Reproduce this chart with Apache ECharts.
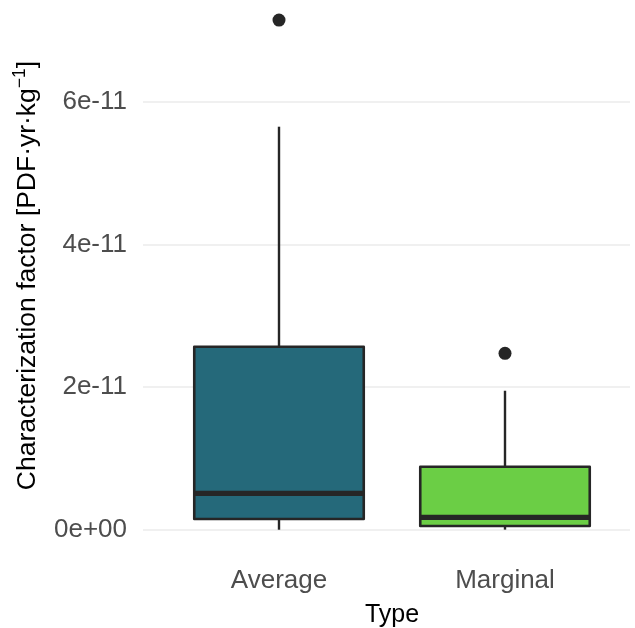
<!DOCTYPE html>
<html>
<head>
<meta charset="utf-8">
<script src="https://cdn.jsdelivr.net/npm/echarts@6/dist/echarts.min.js"></script>
<style>html,body{margin:0;padding:0;background:#fff;}#c{width:635px;height:628px;}</style>
</head>
<body>
<div id="c"></div>
<script>
const categories = ['Average', 'Marginal'];
const whiskerLow = [0.004e-11, 0.005e-11];
const q1 = [0.154e-11, 0.056e-11];
const medians = [0.514e-11, 0.176e-11];
const q3 = [2.568e-11, 0.887e-11];
const whiskerHigh = [5.650e-11, 1.951e-11];
const outliers = [[0, 7.144e-11], [1, 2.475e-11]];
const yTicks = [0, 2e-11, 4e-11, 6e-11];

const fills = ['#25697A', '#6BCE45'];
const edge = '#262626';

const boxData = categories.map((c, i) => [i, whiskerLow[i], q1[i], medians[i], q3[i], whiskerHigh[i]]);

function fmt(v) {
  if (v === 0) return '0e+00';
  const s = v.toExponential(0);
  const m = s.match(/^(-?\d)e([+-])(\d+)$/);
  if (!m) return s;
  return m[1] + 'e' + m[2] + (m[3].length < 2 ? '0' + m[3] : m[3]);
}

const yMin = 0, yMax = 7.355e-11;
const chart = echarts.init(document.getElementById('c'), null, {renderer: 'canvas'});
chart.setOption({
  animation: false,
  backgroundColor: '#ffffff',
  grid: [
    {left: 166, right: 17, top: 5, bottom: 98, outerBoundsMode: 'none', containLabel: false},
    {left: 143, right: 5, top: 5, bottom: 98, outerBoundsMode: 'none', containLabel: false}
  ],
  xAxis: [
    {
      type: 'category', gridIndex: 0, data: categories,
      axisLine: {show: false}, axisTick: {show: false},
      axisLabel: {color: '#4D4D4D', fontSize: 26, fontFamily: 'Liberation Sans', margin: 38},
      name: 'Type', nameLocation: 'middle', nameGap: 73,
      nameTextStyle: {color: '#000', fontSize: 25, fontFamily: 'Liberation Sans'}
    },
    {type: 'value', gridIndex: 1, show: false, min: 0, max: 1}
  ],
  yAxis: [
    {type: 'value', gridIndex: 0, min: yMin, max: yMax, show: false},
    {
      type: 'value', gridIndex: 1, min: yMin, max: yMax, interval: 2e-11,
      axisLine: {show: false},
      axisTick: {show: false, customValues: yTicks},
      splitLine: {show: true, lineStyle: {color: '#EBEBEB', width: 1.6}},
      axisLabel: {
        color: '#4D4D4D', fontSize: 26, fontFamily: 'Liberation Sans', margin: 16,
        formatter: function (v) { return fmt(v); },
        customValues: yTicks
      },
      name: '{a|Characterization factor [PDF·yr·kg}{b|−1}{a|]}',
      nameLocation: 'middle', nameGap: 102, nameRotate: 90,
      nameTextStyle: {
        padding: [0, 16, 0, 0],
        rich: {
          a: {color: '#000', fontSize: 26.5, fontFamily: 'Liberation Sans', lineHeight: 30, verticalAlign: 'bottom'},
          b: {color: '#000', fontSize: 17.5, fontFamily: 'Liberation Sans', lineHeight: 30, verticalAlign: 'top', padding: [0, 0, 14, 0]}
        }
      }
    }
  ],
  series: [
    {
      type: 'custom', xAxisIndex: 0, yAxisIndex: 0,
      data: boxData,
      renderItem: function (params, api) {
        const idx = api.value(0);
        const bw = api.size([1, 0])[0] * 0.75;
        const pLow = api.coord([idx, api.value(1)]);
        const pQ1 = api.coord([idx, api.value(2)]);
        const pMed = api.coord([idx, api.value(3)]);
        const pQ3 = api.coord([idx, api.value(4)]);
        const pHigh = api.coord([idx, api.value(5)]);
        const x = pQ1[0];
        return {
          type: 'group',
          children: [
            {type: 'line', shape: {x1: x, y1: pQ3[1], x2: x, y2: pHigh[1]}, style: {stroke: edge, lineWidth: 2.4}},
            {type: 'line', shape: {x1: x, y1: pQ1[1], x2: x, y2: pLow[1]}, style: {stroke: edge, lineWidth: 2.4}},
            {type: 'rect', shape: {x: x - bw / 2, y: pQ3[1], width: bw, height: pQ1[1] - pQ3[1]},
              style: {fill: fills[idx], stroke: edge, lineWidth: 2.6, lineJoin: 'round'}},
            {type: 'line', shape: {x1: x - bw / 2, y1: pMed[1], x2: x + bw / 2, y2: pMed[1]}, style: {stroke: edge, lineWidth: 5.2}}
          ]
        };
      }
    },
    {
      type: 'scatter', xAxisIndex: 0, yAxisIndex: 0,
      data: outliers, symbol: 'circle', symbolSize: 13,
      itemStyle: {color: edge, opacity: 1}
    }
  ]
});
</script>
</body>
</html>
